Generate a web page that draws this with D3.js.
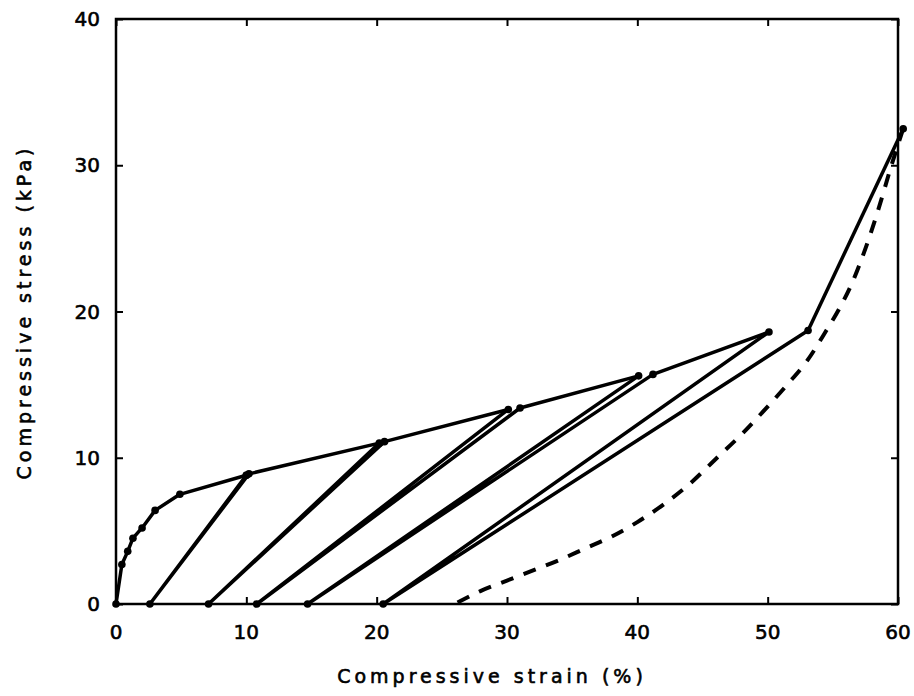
<!DOCTYPE html>
<html>
<head>
<meta charset="utf-8">
<script src="https://cdn.jsdelivr.net/npm/d3@7"></script>
<style>
  body { margin: 0; background: #fff; }
  text { font-family: "DejaVu Sans", sans-serif; fill: #000; }
</style>
</head>
<body>
<svg></svg>
<script>
const width = 914, height = 696;

// initial loading curve (strain %, stress kPa)
const loadStrain = [0, 0.45, 0.9, 1.3, 2.0, 3.0, 4.9, 10.0];
const loadStress = [0, 2.7, 3.6, 4.5, 5.2, 6.4, 7.5, 8.8];

// unload / reload cycles
const peakStrain = [10.0, 20.2, 30.1, 40.1, 50.1];
const peakStress = [8.8, 11.0, 13.3, 15.6, 18.6];
const residualStrain = [2.6, 7.1, 10.8, 14.7, 20.5];
const reloadStrain = [10.2, 20.6, 31.0, 41.2, 53.1];
const reloadStress = [8.9, 11.1, 13.4, 15.7, 18.7];

// last loading point
const finalStrain = 60.4, finalStress = 32.5;

// final unloading (dashed)
const unloadStrain = [60.4, 59.5, 58.5, 57.5, 56.5, 55.5, 54.5, 53, 51.5, 50, 48, 46, 44, 42, 40, 38, 36, 34, 32, 30, 28, 26];
const unloadStress = [32.5, 30, 27, 24.3, 22, 20.2, 18.7, 16.6, 15.0, 13.5, 11.6, 9.9, 8.2, 6.8, 5.6, 4.6, 3.8, 3.0, 2.3, 1.6, 0.9, 0];

const xTicks = [0, 10, 20, 30, 40, 50, 60];
const yTicks = [0, 10, 20, 30, 40];

const svg = d3.select("svg").attr("width", width).attr("height", height);

const x = d3.scaleLinear().domain([0, 60]).range([116, 898]);
const y = d3.scaleLinear().domain([0, 40]).range([604, 19]);

const line = d3.line().x(d => x(d[0])).y(d => y(d[1]));

// frame
svg.append("rect")
    .attr("x", x(0)).attr("y", y(40))
    .attr("width", x(60) - x(0)).attr("height", y(0) - y(40))
    .attr("fill", "none").attr("stroke", "#000").attr("stroke-width", 2.5);

// inward ticks on all four sides
const tl = 7;
svg.append("g").attr("transform", `translate(0,${y(0)})`)
    .call(d3.axisBottom(x).tickValues(xTicks).tickSize(-tl).tickFormat(""))
    .call(g => g.select(".domain").remove());
svg.append("g").attr("transform", `translate(0,${y(40)})`)
    .call(d3.axisTop(x).tickValues(xTicks).tickSize(-tl).tickFormat(""))
    .call(g => g.select(".domain").remove());
svg.append("g").attr("transform", `translate(${x(0)},0)`)
    .call(d3.axisLeft(y).tickValues(yTicks).tickSize(-tl).tickFormat(""))
    .call(g => g.select(".domain").remove());
svg.append("g").attr("transform", `translate(${x(60)},0)`)
    .call(d3.axisRight(y).tickValues(yTicks).tickSize(-tl).tickFormat(""))
    .call(g => g.select(".domain").remove());
svg.selectAll(".tick line").attr("stroke", "#000").attr("stroke-width", 2);

// tick labels
svg.append("g").selectAll("text").data(xTicks).join("text")
    .attr("x", d => x(d)).attr("y", 639)
    .attr("text-anchor", "middle").attr("font-size", 20)
    .attr("stroke", "#000").attr("stroke-width", 0.6)
    .text(d => d);
svg.append("g").selectAll("text").data(yTicks).join("text")
    .attr("x", 100).attr("y", d => y(d) + 7)
    .attr("text-anchor", "end").attr("font-size", 20)
    .attr("stroke", "#000").attr("stroke-width", 0.6)
    .text(d => d);

// axis titles
svg.append("text")
    .attr("x", 492).attr("y", 683)
    .attr("text-anchor", "middle").attr("font-size", 19).attr("letter-spacing", 4)
    .attr("stroke", "#000").attr("stroke-width", 0.6)
    .text("Compressive strain (%)");
svg.append("text")
    .attr("transform", `translate(31,${312}) rotate(-90)`)
    .attr("text-anchor", "middle").attr("font-size", 19).attr("letter-spacing", 4)
    .attr("stroke", "#000").attr("stroke-width", 0.6)
    .text("Compressive stress (kPa)");

// build paths
const envelope = loadStrain.map((s, i) => [s, loadStress[i]]);
const segments = [];
const dots = envelope.slice();
peakStrain.forEach((s, i) => {
  const peak = [s, peakStress[i]];
  const res = [residualStrain[i], 0];
  const rel = [reloadStrain[i], reloadStress[i]];
  segments.push([peak, res, rel]);
  const next = i < peakStrain.length - 1 ? [peakStrain[i + 1], peakStress[i + 1]] : [finalStrain, finalStress];
  segments.push([rel, next]);
  dots.push(peak, res, rel);
});
dots.push([finalStrain, finalStress]);

const plot = svg.append("g");
plot.append("path").datum(envelope).attr("d", line)
    .attr("fill", "none").attr("stroke", "#000").attr("stroke-width", 3.5)
    .attr("stroke-linejoin", "round");
plot.selectAll(".seg").data(segments).join("path").attr("class", "seg")
    .attr("d", line).attr("fill", "none").attr("stroke", "#000")
    .attr("stroke-width", 3.5).attr("stroke-linejoin", "round");
plot.append("path")
    .datum(unloadStrain.map((s, i) => [s, unloadStress[i]]))
    .attr("d", d3.line().x(d => x(d[0])).y(d => y(d[1])).curve(d3.curveMonotoneX))
    .attr("fill", "none").attr("stroke", "#000").attr("stroke-width", 4)
    .attr("stroke-dasharray", "13,11");
plot.selectAll("circle").data(dots).join("circle")
    .attr("cx", d => x(d[0])).attr("cy", d => y(d[1])).attr("r", 3.8)
    .attr("fill", "#000");
</script>
</body>
</html>
